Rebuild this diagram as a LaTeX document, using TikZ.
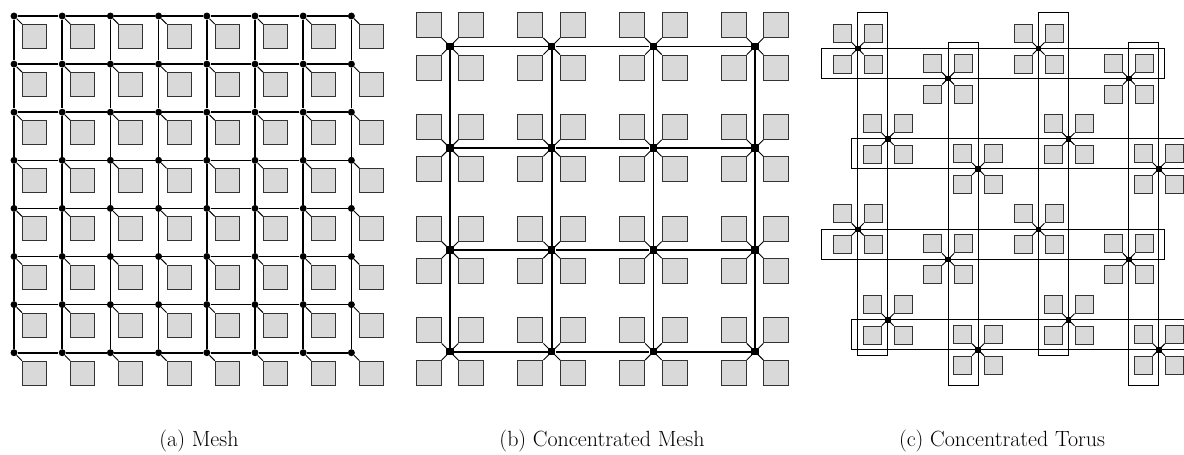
\documentclass[tikz,border=0pt]{standalone}
\begin{document}
\begin{tikzpicture}[x=0.75pt,y=-0.75pt,
  sqa/.style={draw=black!80, fill=gray!30, line width=0.8pt, inner sep=0pt, minimum size=18pt},
  sqb/.style={draw=black!80, fill=gray!30, line width=0.8pt, inner sep=0pt, minimum size=18.75pt},
  sqc/.style={draw=black!80, fill=gray!30, line width=0.7pt, inner sep=0pt, minimum size=13.5pt},
  dota/.style={circle, fill=black, inner sep=0pt, minimum size=5.2pt},
  rtb/.style={rectangle, fill=black, inner sep=0pt, minimum size=5.6pt},
  rtc/.style={rectangle, fill=black, inner sep=0pt, minimum size=4.2pt},
  gridline/.style={line width=1.2pt},
  ringline/.style={line width=0.65pt},
  link/.style={line width=0.7pt},
  captext/.style={font=\fontsize{16.5}{19}\selectfont, inner sep=0pt, anchor=base}]
\clip (0,0) rectangle (1184,454);
% ---------- (a) Mesh ----------
\foreach \i in {0,...,7} {
  \foreach \j in {0,...,7} {
    \pgfmathsetmacro\xx{14+48.2*\i}
    \pgfmathsetmacro\yy{16+48.1*\j}
    \node[dota] (ar-\i-\j) at (\xx,\yy) {};
    \node[sqa, anchor=north west] (as-\i-\j) at (\xx+8,\yy+8) {};
    \draw[link] (ar-\i-\j) -- (as-\i-\j.north west);
  }
}
\foreach \k in {0,...,7} {
  \foreach \i [evaluate=\i as \n using int(\i+1)] in {0,...,6} {
    \draw[gridline] (ar-\i-\k) -- (ar-\n-\k);
    \draw[gridline] (ar-\k-\i) -- (ar-\k-\n);
  }
}
% ---------- (b) Concentrated Mesh ----------
\foreach \i in {0,...,3} {
  \foreach \j in {0,...,3} {
    \pgfmathsetmacro\xx{450+101.7*\i}
    \pgfmathsetmacro\yy{46.3+101.8*\j}
    \node[rtb] (br-\i-\j) at (\xx,\yy) {};
    \node[sqb, anchor=south east] (bs1-\i-\j) at (\xx-8.3,\yy-8.3) {};
    \node[sqb, anchor=south west] (bs2-\i-\j) at (\xx+8.3,\yy-8.3) {};
    \node[sqb, anchor=north east] (bs3-\i-\j) at (\xx-8.3,\yy+8.3) {};
    \node[sqb, anchor=north west] (bs4-\i-\j) at (\xx+8.3,\yy+8.3) {};
    \draw[link] (br-\i-\j.center) -- (bs1-\i-\j.south east);
    \draw[link] (br-\i-\j.center) -- (bs2-\i-\j.south west);
    \draw[link] (br-\i-\j.center) -- (bs3-\i-\j.north east);
    \draw[link] (br-\i-\j.center) -- (bs4-\i-\j.north west);
    \node[rtb] at (\xx,\yy) {};
  }
}
\foreach \k in {0,...,3} {
  \foreach \i [evaluate=\i as \n using int(\i+1)] in {0,...,2} {
    \draw[gridline] (br-\i-\k) -- (br-\n-\k);
    \draw[gridline] (br-\k-\i) -- (br-\k-\n);
  }
}
% ---------- (c) Concentrated Torus ----------
% ring wiring (folded torus)
\foreach \j in {0,...,3} {
  \pgfmathsetmacro\xl{857.7+30*mod(\j,2)-36}
  \pgfmathsetmacro\xr{857.7+30*mod(\j,2)+3*90.4+36}
  \pgfmathsetmacro\yt{48.5+90.4*\j}
  \coordinate (hrow-\j-a) at (\xl,\yt);
  \coordinate (hrow-\j-b) at (\xr,\yt+30);
  \draw[ringline] (hrow-\j-a) rectangle (hrow-\j-b);
}
\foreach \i in {0,...,3} {
  \pgfmathsetmacro\xl{857.7+90.4*\i}
  \pgfmathsetmacro\yt{48.5+30*mod(\i,2)-36}
  \pgfmathsetmacro\yb{48.5+30*mod(\i,2)+3*90.4+36}
  \coordinate (vcol-\i-a) at (\xl,\yt);
  \coordinate (vcol-\i-b) at (\xl+30,\yb);
  \draw[ringline] (vcol-\i-a) rectangle (vcol-\i-b);
}
\foreach \i in {0,...,3} {
  \foreach \j in {0,...,3} {
    \pgfmathsetmacro\xx{857.7+90.4*\i+30*mod(\j,2)}
    \pgfmathsetmacro\yy{48.5+90.4*\j+30*mod(\i,2)}
    \node[rtc] (cr-\i-\j) at (\xx,\yy) {};
    \node[sqc, anchor=south east] (cs1-\i-\j) at (\xx-6,\yy-6) {};
    \node[sqc, anchor=south west] (cs2-\i-\j) at (\xx+6,\yy-6) {};
    \node[sqc, anchor=north east] (cs3-\i-\j) at (\xx-6,\yy+6) {};
    \node[sqc, anchor=north west] (cs4-\i-\j) at (\xx+6,\yy+6) {};
    \draw[link] (cr-\i-\j.center) -- (cs1-\i-\j.south east);
    \draw[link] (cr-\i-\j.center) -- (cs2-\i-\j.south west);
    \draw[link] (cr-\i-\j.center) -- (cs3-\i-\j.north east);
    \draw[link] (cr-\i-\j.center) -- (cs4-\i-\j.north west);
    \node[rtc] at (\xx,\yy) {};
  }
}
% ---------- captions ----------
\node[captext] (capa) at (199,446) {(a) Mesh};
\node[captext] (capb) at (602,446) {(b) Concentrated Mesh};
\node[captext] (capc) at (1002,446) {(c) Concentrated Torus};
\end{tikzpicture}
\end{document}
